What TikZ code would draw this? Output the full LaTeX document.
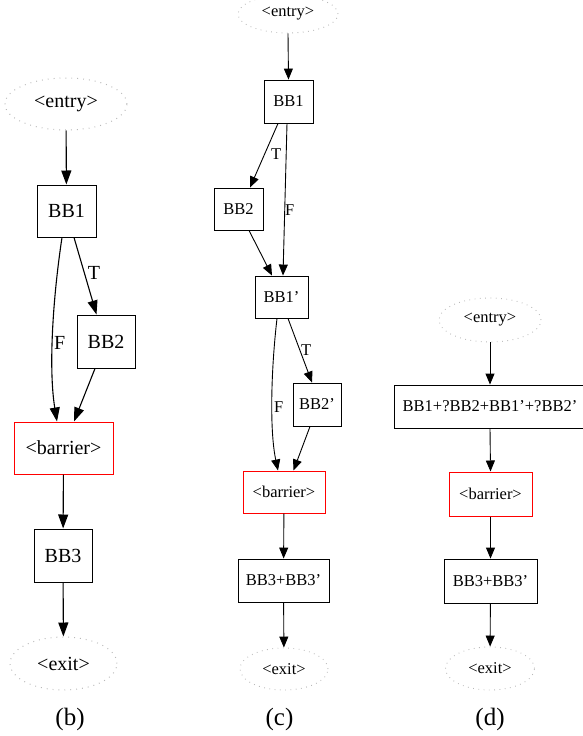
\documentclass[tikz,border=0pt]{standalone}
\usepackage{fontspec}
\setmainfont{Liberation Serif}
\usetikzlibrary{arrows.meta,shapes.geometric,calc}
\definecolor{barred}{RGB}{255,0,0}
\begin{document}
\begin{tikzpicture}[x=1pt,y=-1pt,
  wh/.style 2 args={minimum width=#1pt, minimum height=#2pt},
  btxt/.style={font=\fontsize{20}{24}\selectfont},
  stxt/.style={font=\fontsize{16.5}{20}\selectfont},
  captxt/.style={font=\fontsize{25}{30}\selectfont},
  boxB/.style={btxt, draw, rectangle, inner sep=0pt, line width=1pt},
  boxS/.style={stxt, draw, rectangle, inner sep=0pt, line width=0.9pt},
  redB/.style={btxt, rectangle, inner sep=0pt, draw=barred, line width=1pt},
  redS/.style={stxt, rectangle, inner sep=0pt, draw=barred, line width=1pt},
  ghostB/.style={btxt, ellipse, draw=gray!55, dash pattern=on 0.9pt off 5pt, line width=1pt, inner sep=0pt},
  ghostS/.style={stxt, ellipse, draw=gray!55, dash pattern=on 0.8pt off 4.5pt, line width=0.9pt, inner sep=0pt},
  arrB/.style={draw, line width=1.1pt, -{Triangle[length=14pt,width=10pt]}},
  arrS/.style={draw, line width=0.9pt, -{Triangle[length=11pt,width=9pt]}},
  lblB/.style={btxt},
  lblS/.style={stxt}
]
\useasboundingbox (0,0) rectangle (583,736);

% ---------- (b) ----------
\node[ghostB, wh={122}{52}] (be) at (66,104) {<entry>};
\node[boxB, wh={59}{52}] (b1) at (66.5,211) {BB1};
\node[boxB, wh={58}{53}] (b2) at (106,341.5) {BB2};
\node[redB, wh={99}{52}] (bbar) at (63.5,448) {<barrier>};
\node[boxB, wh={58}{53}] (b3) at (63,555.5) {BB3};
\node[ghostB, wh={107}{53}] (bx) at (63.5,663.5) {<exit>};
\node[captxt] (capb) at (70,719) {(b)};

\draw[arrB] (be) -- (b1);
\draw[arrB] ($(b1.south)+(7.5,0)$) -- node[lblB, pos=0.46, right, inner sep=3pt] {T} ($(b2.north)+(-9.5,0)$);
\draw[arrB] ($(b1.south)+(-4.5,0)$) .. controls ($(b1.south)+(-14,63)$) and ($(bbar.north)+(-15,-52)$) .. node[lblB, pos=0.55, right, inner sep=1pt] {F} ($(bbar.north)+(-6.5,0)$);
\draw[arrB] ($(b2.south)+(-11,0)$) -- ($(bbar.north)+(10.5,0)$);
\draw[arrB] (bbar) -- (b3);
\draw[arrB] (b3) -- (bx);

% ---------- (c) ----------
\node[ghostS, wh={100}{38}] (ce) at (288,14) {<entry>};
\node[boxS, wh={49}{43}] (c1) at (288.5,101.5) {BB1};
\node[boxS, wh={49}{42}] (c2) at (238.5,209) {BB2};
\node[boxS, wh={53}{42}] (c1p) at (281.5,297) {BB1'};
\node[boxS, wh={48}{43}] (c2p) at (317,404.5) {BB2'};
\node[redS, wh={82}{42}] (cbar) at (284,492) {<barrier>};
\node[boxS, wh={91}{43}] (c3) at (283.5,580.5) {BB3+BB3'};
\node[ghostS, wh={88}{42}] (cx) at (284,669) {<exit>};
\node[captxt] (capc) at (279.5,719) {(c)};

\draw[arrS] (ce.south) -- (c1.north);
\draw[arrS] ($(c1.south)+(-10.5,0)$) -- node[lblS, pos=0.48, right, inner sep=6pt] {T} ($(c2.north)+(11.5,0)$);
\draw[arrS] ($(c1.south)+(-1.5,0)$) -- node[lblS, pos=0.57, right, inner sep=0pt] {F} ($(c1p.north)+(1.5,0)$);
\draw[arrS] ($(c2.south)+(10.5,0)$) -- ($(c1p.north)+(-9.5,0)$);
\draw[arrS] ($(c1p.south)+(6.5,0)$) -- node[lblS, pos=0.49, right, inner sep=1pt] {T} ($(c2p.north)+(-5,0)$);
\draw[arrS] ($(c1p.south)+(-4.5,0)$) .. controls ($(c1p.south)+(-10.5,52)$) and ($(cbar.north)+(-14.5,-40)$) .. node[lblS, pos=0.55, right, inner sep=1.5pt] {F} ($(cbar.north)+(-6,0)$);
\draw[arrS] ($(c2p.south)+(-7,0)$) -- ($(cbar.north)+(9.5,0)$);
\draw[arrS] (cbar) -- (c3);
\draw[arrS] (c3) -- (cx);

% ---------- (d) ----------
\node[ghostS, wh={102}{44}] (de) at (490,320) {<entry>};
\node[boxS, wh={192}{43}] (d1) at (490,406.5) {BB1+?BB2+BB1'+?BB2'};
\node[redS, wh={83}{44}] (dbar) at (490.5,494) {<barrier>};
\node[boxS, wh={93}{44}] (d3) at (490.5,581) {BB3+BB3'};
\node[ghostS, wh={89}{43}] (dx) at (490,668.5) {<exit>};
\node[captxt] (capd) at (490,719) {(d)};

\draw[arrS] (de.south) -- (d1.north);
\draw[arrS] (d1.south) -- (dbar.north);
\draw[arrS] (dbar) -- (d3);
\draw[arrS] (d3) -- (dx);
\end{tikzpicture}
\end{document}
